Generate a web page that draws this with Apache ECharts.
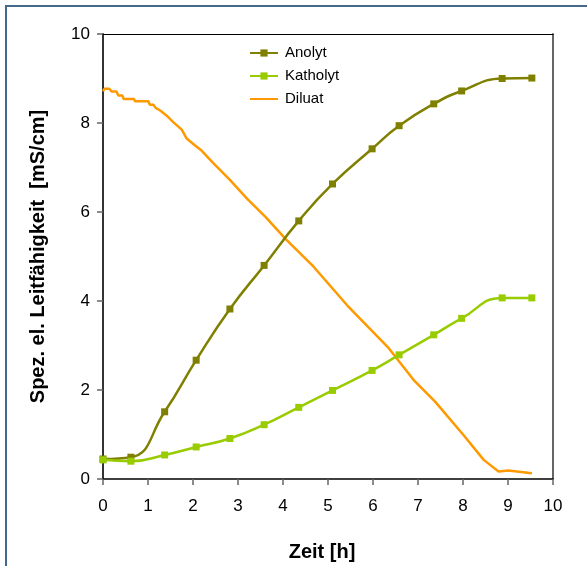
<!DOCTYPE html>
<html>
<head>
<meta charset="utf-8">
<script src="https://cdn.jsdelivr.net/npm/echarts@6/dist/echarts.min.js"></script>
<style>html,body{margin:0;padding:0;background:#fff}#c{width:587px;height:566px}</style>
</head>
<body>
<div id="c"></div>
<script>
var xTicks = [0,1,2,3,4,5,6,7,8,9,10];
var yTicks = [0,2,4,6,8,10];
var seriesNames = ['Anolyt','Katholyt','Diluat'];
var sampleTimes = [0,0.62,1.37,2.07,2.82,3.58,4.35,5.10,5.98,6.58,7.35,7.97,8.87,9.53];
var anolyt = [0.45,0.49,1.51,2.67,3.82,4.80,5.80,6.63,7.42,7.94,8.43,8.72,9.00,9.01];
var katholyt = [0.43,0.40,0.54,0.72,0.91,1.22,1.61,1.99,2.44,2.79,3.24,3.61,4.07,4.07];
var diluatTime = [0,0.03,0.14,0.19,0.30,0.34,0.43,0.46,0.69,0.71,1.01,1.04,1.12,1.17,1.27,1.41,1.56,1.75,1.86,2.04,2.19,2.43,2.83,3.20,3.61,4.05,4.68,5.42,6.35,6.90,7.38,8.01,8.46,8.79,9.01,9.53];
var diluat = [8.71,8.77,8.77,8.71,8.71,8.62,8.62,8.54,8.54,8.49,8.49,8.41,8.41,8.34,8.28,8.17,8.02,7.85,7.65,7.50,7.38,7.12,6.71,6.30,5.89,5.40,4.77,3.91,2.94,2.23,1.74,0.99,0.43,0.17,0.19,0.13];

function pairs(xs, ys){ return xs.map(function(x,i){ return [x, ys[i]]; }); }

var chart = echarts.init(document.getElementById('c'), null, {renderer:'canvas'});
var font = 'Liberation Sans, Arial, sans-serif';
chart.setOption({
  animation: false,
  backgroundColor: '#fff',
  textStyle: {fontFamily: font},
  graphic: [{
    type: 'rect', silent: true, z: -1,
    shape: {x: 6, y: 6, width: 640, height: 640},
    style: {fill: 'none', stroke: '#46698a', lineWidth: 2}
  }],
  grid: {left: 103, right: 34, top: 34, bottom: 87, containLabel: false, outerBoundsMode: 'none'},
  legend: {
    orient: 'vertical', left: 244, top: 40,
    itemWidth: 28, itemHeight: 9, itemGap: 7,
    data: [
      {name: 'Anolyt'},
      {name: 'Katholyt'},
      {name: 'Diluat', itemStyle: {opacity: 0}}
    ],
    textStyle: {fontFamily: font, fontSize: 15, color: '#000', lineHeight: 16, padding: [0,0,0,2]}
  },
  xAxis: [{
    type: 'value', min: 0, max: 10, interval: 1,
    name: 'Zeit [h]', nameLocation: 'middle', nameGap: 63,
    nameTextStyle: {fontFamily: font, fontSize: 20, fontWeight: 'bold', color: '#000', padding: [0,12,0,0]},
    axisLine: {show: true, onZero: false, lineStyle: {color: '#000', width: 1.5}},
    axisTick: {show: true, inside: false, length: 6, lineStyle: {color: '#666', width: 1.5}},
    axisLabel: {fontFamily: font, fontSize: 17, color: '#000', margin: 19,
      formatter: function(v){ return xTicks.indexOf(v) >= 0 ? String(v) : ''; }},
    splitLine: {show: false}
  },{
    type: 'value', min: 0, max: 10, position: 'top',
    axisLine: {show: true, onZero: false, lineStyle: {color: '#000', width: 1}},
    axisTick: {show: false}, axisLabel: {show: false}, splitLine: {show: false}
  }],
  yAxis: [{
    type: 'value', min: 0, max: 10, interval: 2,
    name: 'Spez. el. Leitfähigkeit  [mS/cm]', nameLocation: 'middle', nameGap: 55,
    nameTextStyle: {fontFamily: font, fontSize: 20, fontWeight: 'bold', color: '#000'},
    axisLine: {show: true, onZero: false, lineStyle: {color: '#333', width: 2}},
    axisTick: {show: true, inside: false, length: 6, lineStyle: {color: '#666', width: 1.5}},
    axisLabel: {fontFamily: font, fontSize: 17, color: '#000', margin: 13,
      formatter: function(v){ return yTicks.indexOf(v) >= 0 ? String(v) : ''; }},
    splitLine: {show: false}
  },{
    type: 'value', min: 0, max: 10, position: 'right',
    axisLine: {show: true, onZero: false, lineStyle: {color: '#666', width: 2}},
    axisTick: {show: false}, axisLabel: {show: false}, splitLine: {show: false}
  }],
  series: [{
    name: 'Anolyt', type: 'line', smooth: 0.5,
    data: pairs(sampleTimes, anolyt),
    symbol: 'rect', symbolSize: 7, showAllSymbol: true,
    lineStyle: {color: '#808000', width: 2.5},
    itemStyle: {color: '#808000'}, z: 3
  },{
    name: 'Katholyt', type: 'line', smooth: 0.5,
    data: pairs(sampleTimes, katholyt),
    symbol: 'rect', symbolSize: 7, showAllSymbol: true,
    lineStyle: {color: '#99cc00', width: 2.5},
    itemStyle: {color: '#99cc00'}, z: 4
  },{
    name: 'Diluat', type: 'line', smooth: false,
    data: pairs(diluatTime, diluat),
    symbol: 'none', showSymbol: false,
    lineStyle: {color: '#ff9900', width: 2.5},
    itemStyle: {color: '#ff9900'}, z: 2
  }]
});
</script>
</body>
</html>
